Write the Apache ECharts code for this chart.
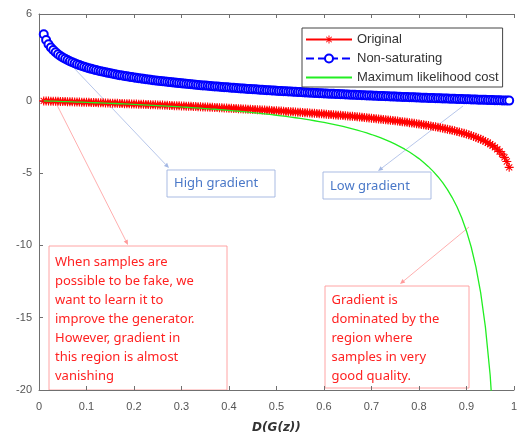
<!DOCTYPE html>
<html><head><meta charset="utf-8">
<script src="https://cdn.jsdelivr.net/npm/echarts@6/dist/echarts.min.js"></script>
<style>html,body{margin:0;padding:0;background:#fff}#c{width:520px;height:439px}</style>
</head><body><div id="c"></div>
<script>
// D(G(z)) sample positions of the marker series
const markerX = [0.010,0.015,0.020,0.025,0.030,0.035,0.040,0.045,0.050,0.055,
0.060,0.065,0.070,0.075,0.080,0.085,0.090,0.095,0.100,0.105,
0.110,0.115,0.120,0.125,0.130,0.135,0.140,0.145,0.150,0.155,
0.160,0.165,0.170,0.175,0.180,0.185,0.190,0.195,0.200,0.205,
0.210,0.215,0.220,0.225,0.230,0.235,0.240,0.245,0.250,0.255,
0.260,0.265,0.270,0.275,0.280,0.285,0.290,0.295,0.300,0.305,
0.310,0.315,0.320,0.325,0.330,0.335,0.340,0.345,0.350,0.355,
0.360,0.365,0.370,0.375,0.380,0.385,0.390,0.395,0.400,0.405,
0.410,0.415,0.420,0.425,0.430,0.435,0.440,0.445,0.450,0.455,
0.460,0.465,0.470,0.475,0.480,0.485,0.490,0.495,0.500,0.505,
0.510,0.515,0.520,0.525,0.530,0.535,0.540,0.545,0.550,0.555,
0.560,0.565,0.570,0.575,0.580,0.585,0.590,0.595,0.600,0.605,
0.610,0.615,0.620,0.625,0.630,0.635,0.640,0.645,0.650,0.655,
0.660,0.665,0.670,0.675,0.680,0.685,0.690,0.695,0.700,0.705,
0.710,0.715,0.720,0.725,0.730,0.735,0.740,0.745,0.750,0.755,
0.760,0.765,0.770,0.775,0.780,0.785,0.790,0.795,0.800,0.805,
0.810,0.815,0.820,0.825,0.830,0.835,0.840,0.845,0.850,0.855,
0.860,0.865,0.870,0.875,0.880,0.885,0.890,0.895,0.900,0.905,
0.910,0.915,0.920,0.925,0.930,0.935,0.940,0.945,0.950,0.955,
0.960,0.965,0.970,0.975,0.980,0.985,0.990];

// "Original" series values (at markerX)
const originalValues = [-0.010,-0.015,-0.020,-0.025,-0.031,-0.036,-0.041,-0.046,-0.051,-0.057,
-0.062,-0.067,-0.073,-0.078,-0.083,-0.089,-0.094,-0.100,-0.105,-0.111,
-0.117,-0.122,-0.128,-0.134,-0.139,-0.145,-0.151,-0.157,-0.163,-0.168,
-0.174,-0.180,-0.186,-0.192,-0.199,-0.205,-0.211,-0.217,-0.223,-0.229,
-0.236,-0.242,-0.249,-0.255,-0.261,-0.268,-0.274,-0.281,-0.288,-0.294,
-0.301,-0.308,-0.315,-0.322,-0.329,-0.336,-0.343,-0.350,-0.357,-0.364,
-0.371,-0.378,-0.386,-0.393,-0.401,-0.408,-0.416,-0.423,-0.431,-0.439,
-0.446,-0.454,-0.462,-0.470,-0.478,-0.486,-0.494,-0.503,-0.511,-0.519,
-0.528,-0.536,-0.545,-0.553,-0.562,-0.571,-0.580,-0.589,-0.598,-0.607,
-0.616,-0.626,-0.635,-0.644,-0.654,-0.664,-0.673,-0.683,-0.693,
-0.703,-0.713,-0.724,-0.734,-0.744,-0.755,-0.766,-0.777,-0.788,-0.799,
-0.810,-0.821,-0.832,-0.844,-0.856,-0.868,-0.880,-0.892,-0.904,-0.916,
-0.929,-0.942,-0.955,-0.968,-0.981,-0.994,-1.008,-1.022,-1.036,-1.050,
-1.064,-1.079,-1.094,-1.109,-1.124,-1.139,-1.155,-1.171,-1.187,-1.204,
-1.221,-1.238,-1.255,-1.273,-1.291,-1.309,-1.328,-1.347,-1.367,-1.386,
-1.407,-1.427,-1.448,-1.470,-1.492,-1.514,-1.537,-1.561,-1.585,-1.609,
-1.635,-1.661,-1.687,-1.715,-1.743,-1.772,-1.802,-1.833,-1.864,-1.897,
-1.931,-1.966,-2.003,-2.040,-2.079,-2.120,-2.163,-2.207,-2.254,-2.303,
-2.354,-2.408,-2.465,-2.526,-2.590,-2.659,-2.733,-2.813,-2.900,-2.996,
-3.101,-3.219,-3.352,-3.507,-3.689,-3.912,-4.200,-4.605];

// "Non-saturating" series values (at markerX)
const nonSaturatingValues = [4.605,4.200,3.912,3.689,3.507,3.352,3.219,3.101,2.996,2.900,
2.813,2.733,2.659,2.590,2.526,2.465,2.408,2.354,2.303,2.254,
2.207,2.163,2.120,2.079,2.040,2.003,1.966,1.931,1.897,1.864,
1.833,1.802,1.772,1.743,1.715,1.687,1.661,1.635,1.609,1.585,
1.561,1.537,1.514,1.492,1.470,1.448,1.427,1.407,1.386,1.367,
1.347,1.328,1.309,1.291,1.273,1.255,1.238,1.221,1.204,1.187,
1.171,1.155,1.139,1.124,1.109,1.094,1.079,1.064,1.050,1.036,
1.022,1.008,0.994,0.981,0.968,0.955,0.942,0.929,0.916,0.904,
0.892,0.880,0.868,0.856,0.844,0.832,0.821,0.810,0.799,0.788,
0.777,0.766,0.755,0.744,0.734,0.724,0.713,0.703,0.693,0.683,
0.673,0.664,0.654,0.644,0.635,0.626,0.616,0.607,0.598,0.589,
0.580,0.571,0.562,0.553,0.545,0.536,0.528,0.519,0.511,0.503,
0.494,0.486,0.478,0.470,0.462,0.454,0.446,0.439,0.431,0.423,
0.416,0.408,0.401,0.393,0.386,0.378,0.371,0.364,0.357,0.350,
0.343,0.336,0.329,0.322,0.315,0.308,0.301,0.294,0.288,0.281,
0.274,0.268,0.261,0.255,0.249,0.242,0.236,0.229,0.223,0.217,
0.211,0.205,0.199,0.192,0.186,0.180,0.174,0.168,0.163,0.157,
0.151,0.145,0.139,0.134,0.128,0.122,0.117,0.111,0.105,0.100,
0.094,0.089,0.083,0.078,0.073,0.067,0.062,0.057,0.051,0.046,
0.041,0.036,0.031,0.025,0.020,0.015,0.010];

// D(G(z)) sample positions of the plain line
const lineX = [0.01,0.02,0.03,0.04,0.05,0.06,0.07,0.08,0.09,0.10,
0.11,0.12,0.13,0.14,0.15,0.16,0.17,0.18,0.19,0.20,
0.21,0.22,0.23,0.24,0.25,0.26,0.27,0.28,0.29,0.30,
0.31,0.32,0.33,0.34,0.35,0.36,0.37,0.38,0.39,0.40,
0.41,0.42,0.43,0.44,0.45,0.46,0.47,0.48,0.49,0.50,
0.51,0.52,0.53,0.54,0.55,0.56,0.57,0.58,0.59,0.60,
0.61,0.62,0.63,0.64,0.65,0.66,0.67,0.68,0.69,0.70,
0.71,0.72,0.73,0.74,0.75,0.76,0.77,0.78,0.79,0.80,
0.81,0.82,0.83,0.84,0.85,0.86,0.87,0.88,0.89,0.90,
0.91,0.92,0.93,0.94,0.95,0.96,0.97,0.98,0.99];

// "Maximum likelihood cost" series values (at lineX)
const maxLikelihoodValues = [-0.010,-0.020,-0.031,-0.042,-0.053,-0.064,-0.075,-0.087,-0.099,-0.111,
-0.124,-0.136,-0.149,-0.163,-0.176,-0.190,-0.205,-0.220,-0.235,-0.250,
-0.266,-0.282,-0.299,-0.316,-0.333,-0.351,-0.370,-0.389,-0.408,-0.429,
-0.449,-0.471,-0.493,-0.515,-0.538,-0.563,-0.587,-0.613,-0.639,-0.667,
-0.695,-0.724,-0.754,-0.786,-0.818,-0.852,-0.887,-0.923,-0.961,-1.000,
-1.041,-1.083,-1.128,-1.174,-1.222,-1.273,-1.326,-1.381,-1.439,-1.500,
-1.564,-1.632,-1.703,-1.778,-1.857,-1.941,-2.030,-2.125,-2.226,-2.333,
-2.448,-2.571,-2.704,-2.846,-3.000,-3.167,-3.348,-3.545,-3.762,-4.000,
-4.263,-4.556,-4.882,-5.250,-5.667,-6.143,-6.692,-7.333,-8.091,-9.000,
-10.111,-11.500,-13.286,-15.667,-19.000,-24.000,-32.333,-49.000,-99.000];

const seriesNames = ['Original', 'Non-saturating', 'Maximum likelihood cost'];
const yTickValues = [-20, -15, -10, -5, 0, 6];

const pairs = (xs, ys) => xs.map((x, i) => [x, ys[i]]);

const asterisk = 'path://M0,4.4L10,4.4L10,5.6L0,5.6Z M4.4,0L5.6,0L5.6,10L4.4,10Z M1.2,2L2,1.2L8.8,8L8,8.8Z M8,1.2L8.8,2L2,8.8L1.2,8Z';

const chart = echarts.init(document.getElementById('c'), null, {renderer: 'canvas'});

const axisColor = '#707070';
const labelStyle = {color: '#555', fontSize: 11, fontFamily: 'Liberation Sans, Arial, sans-serif'};

function arrow(x1, y1, x2, y2, color) {
  const dx = x2 - x1, dy = y2 - y1, L = Math.hypot(dx, dy);
  const ux = dx / L, uy = dy / L, hl = 5, hw = 2.2;
  const bx = x2 - ux * hl, by = y2 - uy * hl;
  return [
    {type: 'line', shape: {x1, y1, x2: bx, y2: by}, style: {stroke: color, lineWidth: 0.8}, silent: true},
    {type: 'polygon', shape: {points: [[x2, y2], [bx - uy * hw, by + ux * hw], [bx + uy * hw, by - ux * hw]]},
     style: {fill: color}, silent: true}
  ];
}
function box(x, y, w, h, color) {
  return {type: 'rect', shape: {x, y, width: w, height: h}, style: {fill: 'none', stroke: color, lineWidth: 0.9}, silent: true};
}
function txt(x, y, s, color) {
  return {type: 'text', x, y, style: {text: s, fill: color, fontSize: 13, lineHeight: 19,
    fontFamily: 'Noto Sans, Open Sans, sans-serif', verticalAlign: 'top', align: 'left'}, silent: true};
}

const blueAnn = '#4a78c8', blueLine = '#a4b8e4';
const redAnn = '#ff2222', redLine = '#ff9a9a';

const graphics = [].concat(
  arrow(73, 67, 169, 168, blueLine),
  [box(167, 170, 108, 27, '#9fb3e0'), txt(174, 174, 'High gradient', blueAnn)],
  arrow(463, 106, 378, 171, blueLine),
  [box(323, 172, 108, 27, '#9fb3e0'), txt(330, 176.5, 'Low gradient', blueAnn)],
  arrow(57, 105, 128, 245, redLine),
  [box(49, 246, 178, 144, redLine),
   txt(55, 253, 'When samples are\npossible to be fake, we\nwant to learn it to\nimprove the generator.\nHowever, gradient in\nthis region is almost\nvanishing', redAnn)],
  arrow(469, 227, 400, 284, redLine),
  [box(325, 286, 144, 102, redLine),
   txt(331.5, 290.5, 'Gradient is\ndominated by the\nregion where\nsamples in very\ngood quality.', redAnn)]
);

chart.setOption({
  animation: false,
  backgroundColor: '#fff',
  grid: {left: 39, top: 14, width: 482, height: 379, containLabel: false},
  legend: {
    show: true, selectedMode: false, orient: 'vertical',
    left: 302, top: 28,
    backgroundColor: '#fff', borderColor: '#444', borderWidth: 1,
    padding: [5, 4, 3, 3], itemWidth: 46, itemHeight: 10, itemGap: 6,
    textStyle: {fontSize: 13, color: '#333', fontFamily: 'Liberation Sans, Arial, sans-serif'},
    data: [
      {name: seriesNames[0]},
      {name: seriesNames[1]},
      {name: seriesNames[2], itemStyle: {opacity: 0}}
    ]
  },
  xAxis: [{
    type: 'value', min: 0, max: 1, interval: 0.1,
    name: 'D(G(z))', nameLocation: 'middle', nameGap: 32,
    nameTextStyle: {fontStyle: 'italic', fontWeight: 'bold', fontSize: 12, color: '#333', fontFamily: 'DejaVu Sans, sans-serif'},
    axisLine: {show: true, onZero: false, lineStyle: {color: axisColor}},
    axisTick: {show: true, inside: true, length: 4, lineStyle: {color: axisColor}},
    axisLabel: Object.assign({margin: 11}, labelStyle),
    splitLine: {show: false}
  }, {
    type: 'value', min: 0, max: 1, interval: 0.1, position: 'top',
    axisLine: {show: true, onZero: false, lineStyle: {color: axisColor}},
    axisTick: {show: true, inside: true, length: 4, lineStyle: {color: axisColor}},
    axisLabel: {show: false}, splitLine: {show: false}
  }],
  yAxis: [{
    type: 'value', min: -20, max: 6,
    axisLine: {show: true, onZero: false, lineStyle: {color: axisColor}},
    axisTick: {show: true, inside: true, length: 4, customValues: yTickValues, lineStyle: {color: axisColor}},
    axisLabel: Object.assign({margin: 7, customValues: yTickValues}, labelStyle),
    splitLine: {show: false}
  }],
  series: [{
    name: seriesNames[0], type: 'line', data: pairs(markerX, originalValues),
    color: '#ff0000', symbol: asterisk, symbolSize: 9, showSymbol: true,
    lineStyle: {width: 1, color: '#ff0000'}, itemStyle: {color: '#ff0000'}, z: 2
  }, {
    name: seriesNames[1], type: 'line', data: pairs(markerX, nonSaturatingValues),
    color: '#0000ff', symbol: 'emptyCircle', symbolSize: 8, showSymbol: true,
    lineStyle: {width: 1, type: 'dashed', color: '#0000ff'},
    itemStyle: {color: '#0000ff', borderColor: '#0000ff', borderWidth: 1}, z: 3
  }, {
    name: seriesNames[2], type: 'line', data: pairs(lineX, maxLikelihoodValues),
    color: '#22ee22', symbol: 'none', showSymbol: false,
    lineStyle: {width: 1.3, color: '#22ee22'}, z: 4
  }],
  graphic: graphics
});
</script></body></html>
